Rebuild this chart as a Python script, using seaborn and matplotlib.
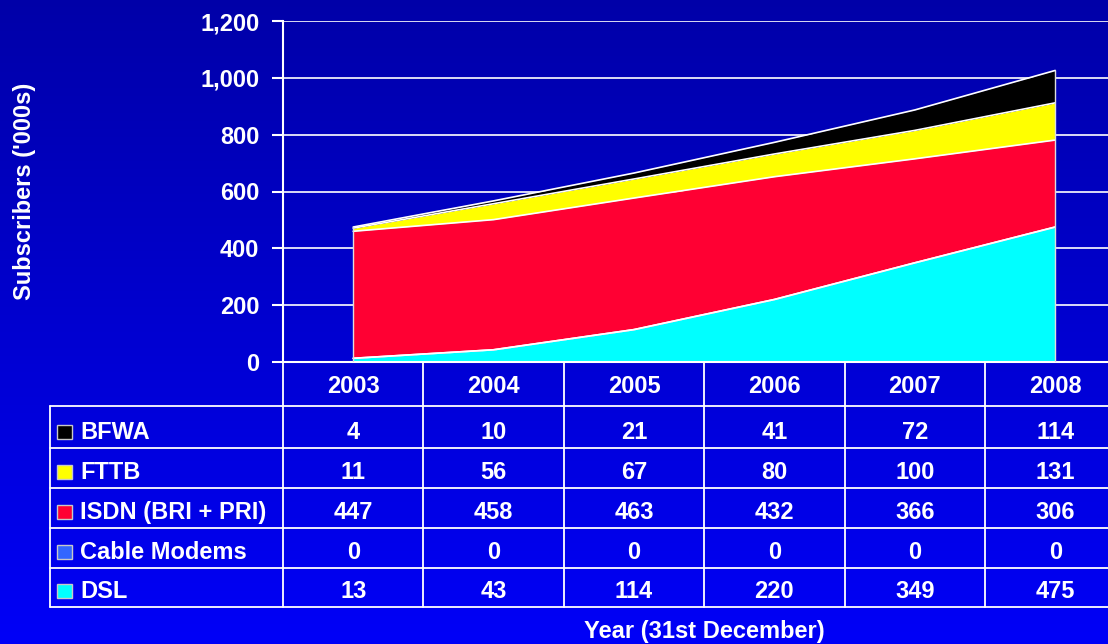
import numpy as np
import pandas as pd
import matplotlib
matplotlib.use("Agg")
import matplotlib.pyplot as plt
import seaborn as sns
from matplotlib.patches import Rectangle

# ---------------- data ----------------
years = ["2003", "2004", "2005", "2006", "2007", "2008"]
series_names = ["BFWA", "FTTB", "ISDN (BRI + PRI)", "Cable Modems", "DSL"]  # table order
bfwa = [4, 10, 21, 41, 72, 114]
fttb = [11, 56, 67, 80, 100, 131]
isdn = [447, 458, 463, 432, 366, 306]
cable = [0, 0, 0, 0, 0, 0]
dsl = [13, 43, 114, 220, 349, 475]
series_colors = ["#000000", "#FFFF00", "#FF0033", "#3366FF", "#00FFFF"]
yticks = [0, 200, 400, 600, 800, 1000, 1200]
ylabel = "Subscribers ('000s)"
xlabel = "Year (31st December)"

table_values = [bfwa, fttb, isdn, cable, dsl]

# ---------------- style ----------------
sns.set_theme(style="white")
plt.rcParams['font.family'] = ['Liberation Sans', 'DejaVu Sans']
plt.rcParams['font.weight'] = 'bold'
FS = 17

W, H = 1108, 644
fig = plt.figure(figsize=(W / 100, H / 100), dpi=100)

# background gradient
bg = fig.add_axes([0, 0, 1, 1])
t = np.linspace(0, 1, 256)
grad = np.zeros((256, 1, 3))
grad[:, 0, 2] = 0.66 + 0.31 * t
bg.imshow(grad, aspect='auto', extent=[0, 1, 0, 1])
bg.set_axis_off()

# geometry (pixels)
x0, colw = 283, 140.4
ytop, ybot = 21, 362
ax = fig.add_axes([x0 / W, (H - ybot) / H, 6 * colw / W, (ybot - ytop) / H])
ax.set_facecolor('none')

x = np.arange(len(years))
stack_bottom_up = [dsl, cable, isdn, fttb, bfwa]
colors_bottom_up = list(reversed(series_colors))
cum = np.cumsum(np.array(stack_bottom_up, dtype=float), axis=0)
lower = np.zeros(len(x))
for i, vals in enumerate(stack_bottom_up):
    upper = cum[i]
    ax.fill_between(x, lower, upper, color=colors_bottom_up[i], lw=0, zorder=2)
    lower = upper

for i in range(len(stack_bottom_up)):
    sns.lineplot(x=x, y=cum[i], color='white', lw=1.2, ax=ax, zorder=3)
ax.vlines([x[0], x[-1]], 0, [cum[-1][0], cum[-1][-1]], color='#DDDDDD', lw=1.0, zorder=3)

ax.set_xlim(-0.5, len(years) - 0.5)
ax.set_ylim(0, 1200)
ax.set_xticks([])
ax.set_yticks(yticks)
ax.set_yticklabels([f"{v:,}" for v in yticks], fontsize=FS, fontweight='bold', color='white')
ax.tick_params(axis='y', colors='white', length=8, width=1.5, pad=9, left=True)
ax.yaxis.grid(True, color='white', lw=1.2)
ax.xaxis.grid(False)
ax.set_axisbelow(True)
for s in ['top', 'right']:
    ax.spines[s].set_visible(False)
ax.spines['left'].set_color('white')
ax.spines['left'].set_linewidth(1.5)
ax.spines['bottom'].set_color('white')
ax.spines['bottom'].set_linewidth(1.5)
ax.set_xlabel("")
ax.set_ylabel("")

# ---------------- data table ----------------
ov = fig.add_axes([0, 0, 1, 1])
ov.set_xlim(0, W)
ov.set_ylim(H, 0)
ov.set_axis_off()
ov.patch.set_alpha(0)

tl = 50
row_edges = [406, 448, 488, 528, 568, 607]
col_edges = [x0 + i * colw for i in range(len(years) + 1)]
lc = 'white'
lw = 1.3
for y in row_edges:
    ov.plot([tl, W + 5], [y, y], color=lc, lw=lw)
ov.plot([tl, tl], [row_edges[0], row_edges[-1]], color=lc, lw=lw)
for cx in col_edges[:-1]:
    ov.plot([cx, cx], [ybot, row_edges[-1]], color=lc, lw=lw)

# header years
for j, yr in enumerate(years):
    cx = (col_edges[j] + col_edges[j + 1]) / 2
    ov.text(cx, 393, yr, ha='center', va='baseline', color='white',
            fontsize=FS, fontweight='bold')

for i, name in enumerate(series_names):
    base = row_edges[i + 1] - 9
    ov.add_patch(Rectangle((57, base - 14), 15, 14, facecolor=series_colors[i],
                           edgecolor='#C8C8C8', lw=1.0))
    ov.text(80, base, name, ha='left', va='baseline', color='white',
            fontsize=FS, fontweight='bold')
    for j, v in enumerate(table_values[i]):
        cx = (col_edges[j] + col_edges[j + 1]) / 2
        ov.text(cx, base, f"{v}", ha='center', va='baseline', color='white',
                fontsize=FS, fontweight='bold')

# axis titles
ov.text(25, (ytop + ybot) / 2, ylabel, rotation=90, ha='center', va='center',
        color='white', fontsize=FS, fontweight='bold')
ov.text(x0 + 3 * colw, 638, xlabel, ha='center', va='baseline',
        color='white', fontsize=FS, fontweight='bold')

fig.savefig("out.png", dpi=100)
